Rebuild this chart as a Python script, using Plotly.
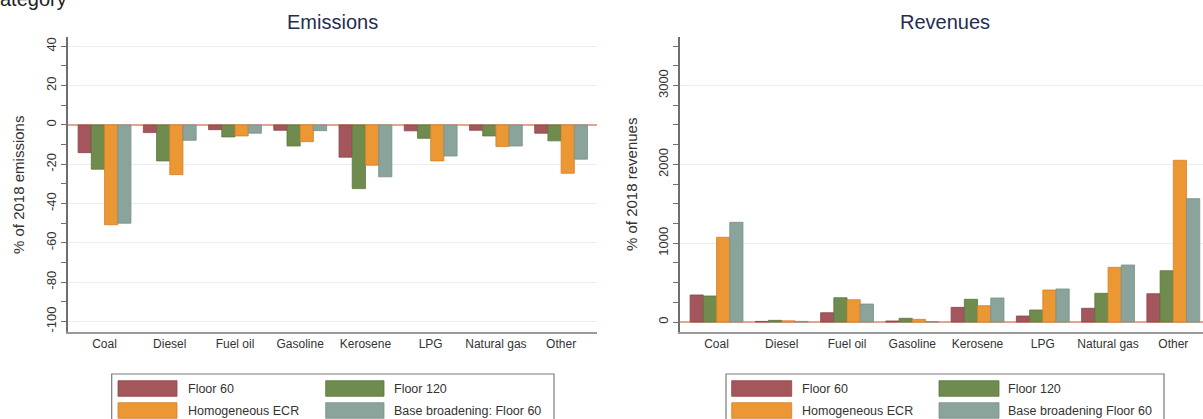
import plotly.graph_objects as go

# ---- data -------------------------------------------------------------
categories = ["Coal", "Diesel", "Fuel oil", "Gasoline", "Kerosene", "LPG", "Natural gas", "Other"]

series_emissions = ["Floor 60", "Floor 120", "Homogeneous ECR", "Base broadening: Floor 60"]
series_revenues = ["Floor 60", "Floor 120", "Homogeneous ECR", "Base broadening Floor 60"]

# change in emissions, % of 2018 emissions
emis_floor60 = [-14.1, -3.9, -2.4, -2.7, -16.4, -3.0, -2.7, -4.2]
emis_floor120 = [-22.5, -18.3, -6.1, -10.7, -32.4, -6.8, -5.6, -8.1]
emis_ecr = [-50.8, -25.3, -5.6, -8.5, -20.5, -18.3, -11.0, -24.6]
emis_base = [-50.0, -7.8, -4.2, -2.9, -26.4, -15.8, -10.7, -17.4]

# change in revenues, % of 2018 revenues
rev_floor60 = [343, 8, 118, 13, 186, 76, 174, 359]
rev_floor120 = [330, 21, 308, 47, 288, 152, 364, 651]
rev_ecr = [1075, 15, 283, 34, 207, 406, 694, 2052]
rev_base = [1265, 8, 228, 5, 305, 419, 723, 1565]

emis_ticks = [40, 20, 0, -20, -40, -60, -80, -100]
rev_ticks = [0, 1000, 2000, 3000]

emis_values = [emis_floor60, emis_floor120, emis_ecr, emis_base]
rev_values = [rev_floor60, rev_floor120, rev_ecr, rev_base]

# ---- styling ----------------------------------------------------------
W, H = 1203, 419
FONT = "Arial, Liberation Sans, sans-serif"
fills = ["#a3575c", "#6f8b4e", "#ea9734", "#8aa49b"]
edges = ["#8e4449", "#5b7740", "#d6822a", "#77918a"]
GRID = "#e8f0f2"
ZERO = "#e0a594"
AXIS = "#6e6e6e"


def px(x):
    return x / W


def py(y):
    return 1 - y / H


fig = go.Figure()

for name, vals, fc, ec in zip(series_emissions, emis_values, fills, edges):
    fig.add_trace(go.Bar(x=categories, y=vals, name=name, xaxis="x", yaxis="y",
                         marker=dict(color=fc, line=dict(color=ec, width=0.8)),
                         showlegend=False))
for name, vals, fc, ec in zip(series_revenues, rev_values, fills, edges):
    fig.add_trace(go.Bar(x=categories, y=vals, name=name, xaxis="x2", yaxis="y2",
                         marker=dict(color=fc, line=dict(color=ec, width=0.8)),
                         showlegend=False))

y_dom = [py(331.7), py(36.7)]

xcommon = dict(showgrid=False, zeroline=False, showline=True, linecolor="#9a9a9a",
               linewidth=2, ticks="", tickfont=dict(family=FONT, size=12, color="#333333"),
               type="category")
ycommon = dict(showgrid=True, gridcolor=GRID, gridwidth=1, zeroline=True,
               zerolinecolor=ZERO, zerolinewidth=2, showline=True, linecolor=AXIS,
               linewidth=1.5, ticks="outside", ticklen=5, tickcolor=AXIS, tickwidth=1,
               tickangle=-90, tickfont=dict(family=FONT, size=13, color="#333333"))

fig.update_layout(
    width=W, height=H,
    margin=dict(l=0, r=0, t=0, b=0),
    paper_bgcolor="white", plot_bgcolor="white",
    barmode="group", bargap=0.19, bargroupgap=0,
    xaxis=dict(domain=[px(68), px(597)], range=[-0.56, 7.55], anchor="y", **xcommon),
    yaxis=dict(domain=y_dom, range=[-105.2, 44.9], anchor="x",
               tickvals=emis_ticks, ticktext=[str(v) for v in emis_ticks],
               minor=dict(dtick=10, ticks="outside", ticklen=5, tickcolor=AXIS, showgrid=False),
               **ycommon),
    xaxis2=dict(domain=[px(680), 1.0], range=[-0.56, 7.455], anchor="y2", **xcommon),
    yaxis2=dict(domain=y_dom, range=[-123, 3620], anchor="x2",
                tickvals=rev_ticks, ticktext=[str(v) for v in rev_ticks],
                minor=dict(dtick=250, ticks="outside", ticklen=5, tickcolor=AXIS, showgrid=False),
                **ycommon),
)

ann = []
# panel titles
ann.append(dict(text="Emissions", x=px(332.5), y=py(22), xref="paper", yref="paper",
                xanchor="center", yanchor="middle", showarrow=False,
                font=dict(family=FONT, size=20, color="#1f2d4f")))
ann.append(dict(text="Revenues", x=px(945), y=py(22), xref="paper", yref="paper",
                xanchor="center", yanchor="middle", showarrow=False,
                font=dict(family=FONT, size=20, color="#1f2d4f")))
# axis titles
ann.append(dict(text="% of 2018 emissions", x=px(19), y=py(185), xref="paper", yref="paper",
                xanchor="center", yanchor="middle", textangle=-90, showarrow=False,
                font=dict(family=FONT, size=15, color="#333333")))
ann.append(dict(text="% of 2018 revenues", x=px(632), y=py(185), xref="paper", yref="paper",
                xanchor="center", yanchor="middle", textangle=-90, showarrow=False,
                font=dict(family=FONT, size=15, color="#333333")))
# caption running off the top edge
ann.append(dict(text="category", x=px(-12), y=py(12), xref="paper", yref="paper",
                xanchor="left", yanchor="bottom", showarrow=False,
                font=dict(family=FONT, size=20, color="#222222")))

shapes = []


def legend_box(x0, x1, sw_cols, txt_cols, names):
    shapes.append(dict(type="rect", xref="paper", yref="paper",
                       x0=px(x0), x1=px(x1), y0=py(440), y1=py(374),
                       line=dict(color="#7a7a7a", width=1.2), fillcolor="white", layer="below"))
    rows = [(380.7, 396.3), (402.7, 418.3)]
    for i, name in enumerate(names):
        r, c = divmod(i, 2)
        sx0, sx1 = sw_cols[c]
        ry0, ry1 = rows[r]
        shapes.append(dict(type="rect", xref="paper", yref="paper",
                           x0=px(sx0), x1=px(sx1), y0=py(ry1), y1=py(ry0),
                           fillcolor=fills[i], line=dict(color=edges[i], width=0.8)))
        ann.append(dict(text=name, x=px(txt_cols[c]), y=py((ry0 + ry1) / 2),
                        xref="paper", yref="paper", xanchor="left", yanchor="middle",
                        showarrow=False, font=dict(family=FONT, size=12.5, color="#333333")))


legend_box(111.7, 554, [(118, 177), (325.7, 384)], [186, 392], series_emissions)
legend_box(726, 1164, [(731.7, 791.7), (939, 999)], [800, 1006], series_revenues)

fig.update_layout(annotations=ann, shapes=shapes)

fig.write_html("out.html")
